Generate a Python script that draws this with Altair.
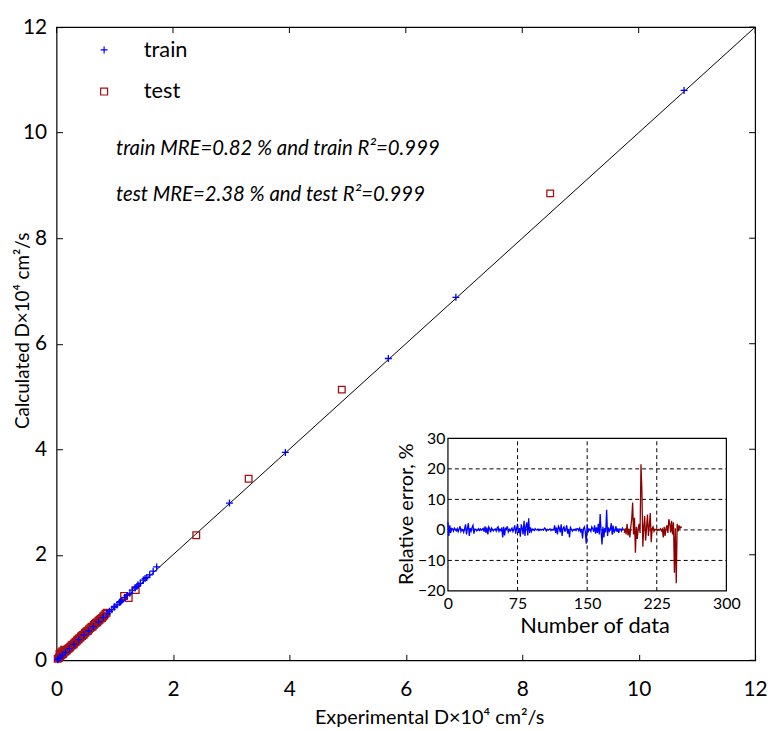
import altair as alt
import pandas as pd

FONT = "Lato"

# ---------------- main scatter data ----------------
SETS = ["train", "test"]
SET_COLORS = ["#0000ff", "#a81010"]

TRAIN_EXP = [10.78, 6.86, 5.70, 3.93, 2.97, 1.72, 1.66, 1.60, 1.55, 1.52, 1.49, 1.44, 1.40,
             1.38, 1.35, 1.30, 1.26, 1.21, 1.17, 1.12, 1.10, 1.08, 1.04, 1.00, 0.99, 0.95,
             0.91, 0.87, 0.80, 0.72, 0.63, 0.55, 0.47, 0.38, 0.30, 0.22, 0.15, 0.10, 0.06,
             0.03, 0.02]
TRAIN_CALC = [10.80, 6.88, 5.72, 3.94, 2.98, 1.77, 1.69, 1.62, 1.57, 1.55, 1.52, 1.46, 1.43,
              1.40, 1.37, 1.33, 1.27, 1.23, 1.19, 1.13, 1.11, 1.10, 1.05, 1.02, 1.01, 0.96,
              0.93, 0.88, 0.81, 0.73, 0.64, 0.56, 0.48, 0.39, 0.30, 0.22, 0.15, 0.10, 0.06,
              0.03, 0.01]

TEST_EXP = [8.48, 4.90, 3.30, 2.40, 1.24, 1.36, 1.16, 0.86, 0.82, 0.78, 0.74, 0.70, 0.66,
            0.62, 0.58, 0.54, 0.50, 0.47, 0.44, 0.41, 0.38, 0.35, 0.32, 0.29, 0.26, 0.23,
            0.20, 0.17, 0.14, 0.11, 0.08, 0.06, 0.04, 0.02, 0.10, 0.05,
            0.84, 0.80, 0.76, 0.72, 0.68, 0.64, 0.60, 0.56, 0.52, 0.49, 0.45, 0.42, 0.39,
            0.36, 0.33, 0.30, 0.27, 0.24, 0.21, 0.18, 0.15, 0.12, 0.09, 0.07, 0.13, 0.08]
TEST_CALC = [8.85, 5.13, 3.44, 2.37, 1.18, 1.33, 1.22, 0.90, 0.85, 0.80, 0.77, 0.72, 0.69,
             0.64, 0.61, 0.56, 0.53, 0.49, 0.46, 0.43, 0.40, 0.37, 0.34, 0.30, 0.28, 0.24,
             0.22, 0.18, 0.16, 0.12, 0.10, 0.07, 0.05, 0.03, 0.17, 0.12,
             0.88, 0.83, 0.79, 0.75, 0.71, 0.67, 0.63, 0.59, 0.55, 0.52, 0.48, 0.45, 0.42,
             0.39, 0.35, 0.32, 0.29, 0.26, 0.23, 0.20, 0.17, 0.14, 0.11, 0.09, 0.20, 0.15]

DIAG = [0, 12]
MAIN_DOMAIN = [0, 12]
MAIN_TICKS = [0, 2, 4, 6, 8, 10, 12]

X_TITLE = "Experimental D×10⁴ cm²/s"
Y_TITLE = "Calculated D×10⁴ cm²/s"
ANNOT_TRAIN = "train MRE=0.82 % and train R²=0.999"
ANNOT_TEST = "test MRE=2.38 % and test R²=0.999"

# ---------------- inset data (relative error, %) ----------------
TRAIN_ERR = [
    2.5, -2.0, 1.5, -1.0, 0.5, 0.3, -0.4, 0.6, 0.2, -0.3,
    0.4, -0.6, 0.3, 1.2, -0.5, 0.2, 0.0, -0.8, 0.5, 1.8,
    -1.5, 0.4, 2.2, -2.0, 0.6, -0.4, 0.8, 1.5, -1.2, 0.3,
    0.2, -0.3, 0.1, 0.4, -0.2, 0.3, -0.1, 0.2, 0.5, -0.6,
    1.2, -1.0, 0.8, -1.5, 1.0, 0.4, -0.8, 0.6, 0.2, -0.3,
    0.1, 0.3, -0.4, 0.6, 1.0, -0.5, 0.2, -0.2, 0.8, -2.5,
    1.0, -1.8, 0.5, 0.3, 1.2, -0.6, 0.2, -0.4, 0.1, 0.6,
    -0.5, 0.3, 1.5, -1.2, 0.4, 2.0, -1.0, 0.6, -2.2, 1.8,
    0.5, -1.5, 3.0, -2.0, 1.2, 2.5, -1.8, 3.8, -1.0, 0.8,
    -0.5, 0.3, 0.2, -0.2, 0.4, 0.1, 0.0, 0.3, -0.2, 0.2,
    0.1, 0.0, 0.2, -0.1, 0.6, 0.4, -0.3, 0.2, 0.0, 0.1,
    0.3, -0.2, 0.2, 0.0, 0.1, 1.5, -1.0, 0.8, -1.5, 1.2,
    0.6, -0.8, 1.8, -2.0, 0.5, 1.0, -0.6, 0.4, 1.5, -1.2,
    0.3, -2.5, 0.8, 0.2, -0.4, 0.1, 0.0, 0.3, -0.2, 0.4,
    0.4, -0.3, 0.6, -0.5, 0.3, -2.8, 0.4, 1.0, -0.6, -4.5,
    1.8, -0.8, 0.3, 0.2, -0.5, 1.0, 0.4, -0.6, 1.5, -1.2,
    0.8, -1.0, 2.0, -1.5, 5.2, -0.5, -4.8, 1.0, -2.5, 0.6,
    -0.8, 6.6, -2.0, 0.8, -0.4, 0.3, 2.2, -1.6, 1.4, -0.8,
    -0.3, 1.2, -0.6, 0.5, -1.0, 0.3, 0.2, -0.4, 0.6, 0.1,
]
TEST_ERR = [
    -1.0, 0.5, -1.5, 2.0, -1.8, 0.4, -2.5, 1.0, 3.5, 9.0,
    -1.5, 4.0, -7.5, 1.0, -3.0, 0.5, 2.0, -1.0, 21.5, 12.5,
    -5.5, 1.0, 4.5, -3.5, 0.8, 5.0, -2.0, 1.5, 5.5, -4.0,
    0.5, 1.0, -0.5, 0.2, 0.0, 0.3, -0.2, 0.1, 0.0, 0.4,
    -0.3, 0.2, -2.5, 1.0, -2.0, 0.5, 1.5, -1.0, 3.5, 2.0,
    -0.8, 3.0, -1.5, 2.5, -14.0, 0.5, -17.5, 2.0, -0.5, 1.5,
    0.5, 1.0, 0.8,
]
INSET_X_DOMAIN = [0, 300]
INSET_Y_DOMAIN = [-20, 30]
INSET_X_TICKS = [0, 75, 150, 225, 300]
INSET_Y_TICKS = [-20, -10, 0, 10, 20, 30]
INSET_X_GRID = [75, 150, 225]
INSET_Y_GRID = [-10, 0, 10, 20]

# ---------------- layout ----------------
W, H = 705, 639
INSET_XR = [395, 676]
INSET_YR = [569, 415]

PLUS = "M-1,0L1,0M0,-1L0,1"

xs = alt.Scale(domain=MAIN_DOMAIN, nice=False, zero=False)
ys = alt.Scale(domain=MAIN_DOMAIN, nice=False, zero=False)

x_axis = alt.Axis(
    values=MAIN_TICKS, orient="bottom", offset=-6, tickSize=6, tickColor="black",
    tickWidth=1, domain=False, grid=False, labelFont=FONT, labelFontSize=21,
    labelColor="black", labelPadding=19, labelFlush=False, labelOverlap=False,
    title=X_TITLE, titleFont=FONT, titleFontSize=20, titleFontWeight="normal",
    titleColor="black", titleX=376, titleY=64, titleBaseline="middle", titleAlign="center",
)
y_axis = alt.Axis(
    values=MAIN_TICKS, orient="left", offset=-6, tickSize=6, tickColor="black",
    tickWidth=1, domain=False, grid=False, labelFont=FONT, labelFontSize=21,
    labelColor="black", labelPadding=10, labelFlush=False, labelOverlap=False,
    title=Y_TITLE, titleFont=FONT, titleFontSize=19, titleFontWeight="normal",
    titleColor="black", titleAngle=270, titleX=-40, titleY=306,
    titleBaseline="middle", titleAlign="center",
)

diag_df = pd.DataFrame({"a": DIAG, "b": DIAG})
diag = alt.Chart(diag_df).mark_line(color="black", strokeWidth=1).encode(
    x=alt.X("a:Q", scale=xs, axis=x_axis),
    y=alt.Y("b:Q", scale=ys, axis=y_axis),
)

color_scale = alt.Scale(domain=SETS, range=SET_COLORS)
shape_scale = alt.Scale(domain=SETS, range=[PLUS, "square"])
legend = alt.Legend(
    title=None, orient="none", legendX=37, legendY=12, labelFont=FONT,
    labelFontSize=22, labelColor="black", symbolSize=49, symbolStrokeWidth=1.2,
    rowPadding=20, labelOffset=29, padding=0,
)

train_df = pd.DataFrame({"exp": TRAIN_EXP, "calc": TRAIN_CALC, "set": "train"})
test_df = pd.DataFrame({"exp": TEST_EXP, "calc": TEST_CALC, "set": "test"})


def pts(df, size):
    return alt.Chart(df).mark_point(filled=False, strokeWidth=1.3, size=size, opacity=1).encode(
        x=alt.X("exp:Q", scale=xs, axis=x_axis),
        y=alt.Y("calc:Q", scale=ys, axis=y_axis),
        color=alt.Color("set:N", scale=color_scale, legend=legend),
        shape=alt.Shape("set:N", scale=shape_scale, legend=legend),
    )


test_pts = pts(test_df, 45)
train_pts = pts(train_df, 50)

tick_df = pd.DataFrame({"t": MAIN_TICKS})
top_ticks = alt.Chart(tick_df).mark_rule(color="black", strokeWidth=1).encode(
    x=alt.X("t:Q", scale=xs, axis=x_axis), y=alt.value(0), y2=alt.value(6)
)
right_ticks = alt.Chart(tick_df).mark_rule(color="black", strokeWidth=1).encode(
    y=alt.Y("t:Q", scale=ys, axis=y_axis), x=alt.value(W), x2=alt.value(W - 6)
)

annot1 = alt.Chart(pd.DataFrame({"t": [ANNOT_TRAIN]})).mark_text(
    align="left", baseline="middle", font=FONT, fontSize=20.5, fontStyle="italic", color="black"
).encode(text="t:N", x=alt.value(60), y=alt.value(123))
annot2 = alt.Chart(pd.DataFrame({"t": [ANNOT_TEST]})).mark_text(
    align="left", baseline="middle", font=FONT, fontSize=20.5, fontStyle="italic", color="black"
).encode(text="t:N", x=alt.value(60), y=alt.value(169))

main = alt.layer(diag, test_pts, train_pts, top_ticks, right_ticks, annot1, annot2)

# ---------------- inset ----------------
isx = alt.Scale(domain=INSET_X_DOMAIN, range=INSET_XR, nice=False, zero=False)
isy = alt.Scale(domain=INSET_Y_DOMAIN, range=INSET_YR, nice=False, zero=False)

ix_axis = alt.Axis(
    values=INSET_X_TICKS, orient="bottom", offset=-(H - INSET_YR[0]), ticks=False,
    domain=False, grid=False, labelFont=FONT, labelFontSize=16, labelColor="black",
    labelPadding=5, labelFlush=False, labelOverlap=False,
    title="Number of data", titleFont=FONT, titleFontSize=22, titleFontWeight="normal",
    titleColor="black", titleX=543, titleY=35, titleBaseline="middle", titleAlign="center",
)
iy_axis = alt.Axis(
    values=INSET_Y_TICKS, orient="left", offset=-INSET_XR[0], ticks=False,
    domain=False, grid=False, labelFont=FONT, labelFontSize=16, labelColor="black",
    labelPadding=3, labelFlush=False, labelOverlap=False,
    title="Relative error, %", titleFont=FONT, titleFontSize=20, titleFontWeight="normal",
    titleColor="black", titleAngle=270, titleX=-42, titleY=491,
    titleBaseline="middle", titleAlign="center",
)

frame_df = pd.DataFrame({"x0": [INSET_X_DOMAIN[0]], "x1": [INSET_X_DOMAIN[1]],
                         "y0": [INSET_Y_DOMAIN[0]], "y1": [INSET_Y_DOMAIN[1]]})
frame = alt.Chart(frame_df).mark_rect(fillOpacity=0, stroke="black", strokeWidth=1.2).encode(
    x=alt.X("x0:Q", scale=isx, axis=ix_axis), x2="x1:Q",
    y=alt.Y("y0:Q", scale=isy, axis=iy_axis), y2="y1:Q",
)

vg_df = pd.DataFrame({"g": INSET_X_GRID, "lo": INSET_Y_DOMAIN[0], "hi": INSET_Y_DOMAIN[1]})
vgrid = alt.Chart(vg_df).mark_rule(color="black", strokeWidth=1, strokeDash=[4, 3]).encode(
    x=alt.X("g:Q", scale=isx, axis=ix_axis),
    y=alt.Y("lo:Q", scale=isy, axis=iy_axis), y2="hi:Q",
)
hg_df = pd.DataFrame({"g": INSET_Y_GRID, "lo": INSET_X_DOMAIN[0], "hi": INSET_X_DOMAIN[1]})
hgrid = alt.Chart(hg_df).mark_rule(color="black", strokeWidth=1, strokeDash=[4, 3]).encode(
    y=alt.Y("g:Q", scale=isy, axis=iy_axis),
    x=alt.X("lo:Q", scale=isx, axis=ix_axis), x2="hi:Q",
)

n_train = len(TRAIN_ERR)
train_err_df = pd.DataFrame({"i": list(range(n_train)), "e": TRAIN_ERR})
test_err_df = pd.DataFrame({"i": list(range(n_train, n_train + len(TEST_ERR))), "e": TEST_ERR})

train_line = alt.Chart(train_err_df).mark_line(color="#0000ff", strokeWidth=1.3).encode(
    x=alt.X("i:Q", scale=isx, axis=ix_axis), y=alt.Y("e:Q", scale=isy, axis=iy_axis)
)
test_line = alt.Chart(test_err_df).mark_line(color="#8b0000", strokeWidth=1.3).encode(
    x=alt.X("i:Q", scale=isx, axis=ix_axis), y=alt.Y("e:Q", scale=isy, axis=iy_axis)
)

inset = alt.layer(frame, vgrid, hgrid, train_line, test_line)

chart = (
    alt.layer(main, inset)
    .resolve_scale(x="independent", y="independent")
    .properties(
        width=W, height=H,
        autosize=alt.AutoSizeParams(type="none"),
        padding={"left": 49, "top": 16, "right": 12, "bottom": 65},
        background="white",
    )
    .configure_view(stroke="black", strokeWidth=1.2)
)

chart.save("out.html", embed_options={"renderer": "svg", "actions": False})
